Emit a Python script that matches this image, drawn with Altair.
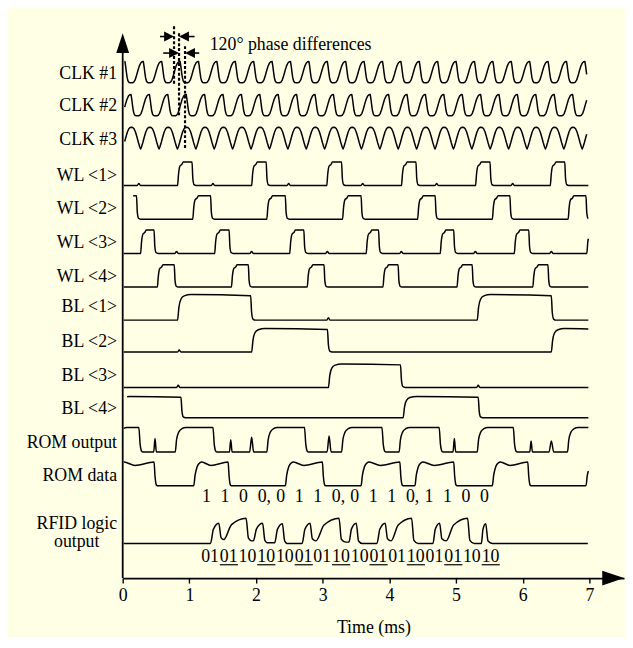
import altair as alt
import numpy as np
import pandas as pd

# ================= values =================
tick_values = [0, 1, 2, 3, 4, 5, 6, 7]
t_domain_end = 7.52          # axis arrow tip (ms)
trace_end = 6.985

# --- clocks (period and phase, one cycle shape each) ---
clk_names = ["CLK #1", "CLK #2", "CLK #3"]
clk_period = 0.276
clk_phase = [0.033, 0.125, 0.131]
clk_u = [(0.00, 1.00), (0.04, 0.78), (0.08, 0.50), (0.12, 0.25), (0.17, 0.08), (0.23, 0.01),
         (0.30, 0.00), (0.40, 0.00), (0.48, 0.03), (0.55, 0.12), (0.62, 0.30), (0.70, 0.55),
         (0.78, 0.78), (0.86, 0.93), (0.93, 0.99)]
clk_arch = [(0.00, 1.00), (0.07, 0.99), (0.14, 0.93), (0.22, 0.78), (0.30, 0.55), (0.38, 0.30),
            (0.45, 0.10), (0.50, 0.00), (0.55, 0.10), (0.62, 0.30), (0.70, 0.55), (0.78, 0.78),
            (0.86, 0.93), (0.93, 0.99)]

# --- word lines: (rise, fall) times in ms ---
wl_names = ["WL <1>", "WL <2>", "WL <3>", "WL <4>"]
wl_high = [
    [(0.823, 1.040), (1.934, 2.152), (3.061, 3.283), (4.182, 4.399), (5.293, 5.510), (6.414, 6.631)],
    [(-0.10, 0.207), (1.051, 1.318), (2.162, 2.439), (3.298, 3.576), (4.424, 4.687), (5.545, 5.808), (6.682, 6.949)],
    [(0.268, 0.470), (1.379, 1.596), (2.505, 2.717), (3.652, 3.838), (4.763, 4.965), (5.874, 6.091), (6.962, 7.30)],
    [(0.520, 0.773), (1.631, 1.884), (2.768, 3.020), (3.904, 4.131), (5.015, 5.242), (6.152, 6.379)],
]
wl_start = [0.015, 0.157, 0.015, 0.015]
wl_blips = [[0.242, 1.354, 2.49, 3.60, 4.71, 5.85], [], [0.808, 1.934, 3.07, 4.18, 5.29, 6.43], []]

# --- bit lines ---
bl_names = ["BL <1>", "BL <2>", "BL <3>", "BL <4>"]
bl_high = [
    [(0.823, 1.919), (5.318, 6.429)],
    [(1.934, 3.071), (6.429, 7.30)],
    [(3.086, 4.167)],
    [(-0.10, 0.874), (4.207, 5.333)],
]
bl_start = [0.015, 0.015, 0.015, 0.066]
bl_blips = [[3.086], [0.848], [0.833, 5.333], []]

# --- ROM output: high intervals and spikes (time, height, half width) ---
rom_out_high = [(-0.10, 0.242), (0.788, 1.354), (2.162, 2.727), (3.283, 3.889),
                (4.146, 4.747), (5.318, 5.859), (6.672, 7.30)]
rom_out_spikes = [(0.485, 0.55, 0.02), (1.621, 0.50, 0.02), (1.934, 0.60, 0.03),
                  (3.096, 0.65, 0.03), (4.975, 0.55, 0.02), (6.126, 0.45, 0.02),
                  (6.430, 0.45, 0.035)]

# --- ROM data ---
rom_data_high = [(-0.10, 0.470), (1.066, 1.581), (2.440, 2.995), (3.576, 4.157),
                 (4.384, 4.965), (5.545, 6.076), (6.950, 7.30)]
rom_bits = ["1", "1", "0", "0,", "0", "1", "1", "0,", "0", "1", "1", "0,", "1", "1", "0", "0"]
rom_bit_t0, rom_bit_step = 1.19, 0.278

# --- RFID logic output bumps: (rise, level0, peak t, peak level, fall end, trough) ---
rfid_bumps = [
    (1.317, 0.00, 1.441, 0.80, 1.515, 0.15),
    (1.515, 0.15, 1.851, 1.00, 1.935, 0.10),
    (1.960, 0.10, 2.098, 0.80, 2.170, 0.03),
    (2.281, 0.03, 2.395, 0.78, 2.470, 0.00),
    (2.692, 0.00, 2.810, 0.80, 2.899, 0.10),
    (2.899, 0.10, 3.245, 1.00, 3.344, 0.05),
    (3.394, 0.05, 3.503, 0.80, 3.590, 0.00),
    (3.814, 0.00, 3.937, 0.80, 4.026, 0.10),
    (4.026, 0.10, 4.333, 1.00, 4.431, 0.00),
    (4.654, 0.00, 4.753, 0.80, 4.852, 0.10),
    (4.852, 0.10, 5.173, 1.00, 5.272, 0.00),
    (5.381, 0.00, 5.445, 0.78, 5.544, 0.00),
]
manchester_pairs = ["01", "01", "10", "10", "10", "01", "01", "10",
                    "10", "01", "01", "10", "01", "01", "10", "10"]
pair_t0, pair_step = 1.177, 0.2805

# phase annotation
phase_lines_t = [0.770, 0.845, 0.935]
phase_text = "120° phase differences"

# ================= layout / style (not data) =================
FONT = "Liberation Serif"
AXIS_PX = 581.0           # page y of the time axis
def up(px):
    return AXIS_PX - px

row_px = {  # (high, low) page y
    "CLK #1": (58.5, 80.0), "CLK #2": (92.0, 113.5), "CLK #3": (125.0, 147.0),
    "WL <1>": (160.2, 184.0), "WL <2>": (194.2, 218.0), "WL <3>": (229.0, 252.7), "WL <4>": (264.0, 286.7),
    "BL <1>": (294.3, 320.1), "BL <2>": (328.6, 352.4), "BL <3>": (364.4, 388.2), "BL <4>": (397.3, 418.8),
    "ROM output": (428.7, 453.5), "ROM data": (463.7, 487.6), "RFID": (520.4, 545.9),
}
label_px = {
    "CLK #1": 71.7, "CLK #2": 103.3, "CLK #3": 138.3,
    "WL <1>": 174.0, "WL <2>": 208.0, "WL <3>": 242.0, "WL <4>": 276.5,
    "BL <1>": 307.2, "BL <2>": 342.2, "BL <3>": 376.3, "BL <4>": 410.3,
    "ROM output": 444.0, "ROM data": 477.3, "RFID logic": 526.5,
}

wl_rise = [(0, 0), (0.015, 0.5), (0.035, 0.82), (0.065, 0.9), (0.085, 1.0)]
wl_fall = [(0, 1.0), (0.012, 0.3), (0.03, 0.04), (0.06, 0)]
bl_rise = [(0, 0), (0.02, 0.5), (0.05, 0.82), (0.1, 0.95), (0.2, 1.0)]
bl_fall = [(0, 0.96), (0.015, 0.3), (0.035, 0.04), (0.07, 0)]
ro_rise = [(0, 0), (0.02, 0.5), (0.05, 0.8), (0.1, 0.95), (0.16, 1.0)]
ro_fall = [(0, 1.0), (0.02, 0.3), (0.045, 0.02), (0.06, 0)]
rd_rise = [(0, 0), (0.02, 0.45), (0.05, 0.8), (0.09, 0.97), (0.12, 1.0)]
rd_fall = [(0, 1.0), (0.015, 0.4), (0.035, 0.03), (0.05, 0)]


def clip(ts, vs, start, end):
    order = np.argsort(ts, kind="stable")
    ts = np.asarray(ts, float)[order]
    vs = np.asarray(vs, float)[order]
    keep = (ts > start) & (ts < end)
    tt = np.concatenate([[start], ts[keep], [end]])
    vv = np.concatenate([[np.interp(start, ts, vs)], vs[keep], [np.interp(end, ts, vs)]])
    return tt, vv


def pulse_trace(intervals, rise, fall, start, end, spikes=(), dip=None):
    ts, vs = [], []
    for r, f in intervals:
        for dt, v in rise:
            ts.append(r + dt); vs.append(v)
        if dip is not None:
            ts.append((r + f) / 2); vs.append(dip)
        for dt, v in fall:
            ts.append(f + dt); vs.append(v)
    for tc, h, w in spikes:
        ts += [tc - w, tc, tc + w]; vs += [0.0, h, 0.0]
    return clip(ts, vs, start, end)


def clock_trace(phase, shape, start, end):
    ts, vs = [], []
    for k in range(-2, 30):
        for ph, v in shape:
            ts.append(phase + (k + ph) * clk_period); vs.append(v)
    return clip(ts, vs, start, end)


def rfid_trace(bumps, start, end):
    ts, vs = [start], [0.0]
    for r, v0, tp, vp, tf, vt in bumps:
        if ts[-1] < r - 1e-9:
            ts.append(r); vs.append(v0)
        ts.append(r + 0.35 * (tp - r)); vs.append(v0 + 0.7 * (vp - v0))
        ts.append(tp); vs.append(vp)
        if tf - tp > 0.05:
            ts.append(tp + 0.035); vs.append(vt + 0.12 * (vp - vt))
        ts.append(tf); vs.append(vt)
    ts.append(end); vs.append(0.0)
    return np.array(ts), np.array(vs)


clk_frames, frames = [], []
def add(name, tt, vv, target):
    hi, lo = row_px[name]
    y = up(lo) + vv * (up(hi) - up(lo))
    target.append(pd.DataFrame({"sig": name, "t": tt, "y": y, "i": np.arange(len(tt))}))

shapes = [clk_u, clk_u, clk_arch]
for n, ph, sh in zip(clk_names, clk_phase, shapes):
    add(n, *clock_trace(ph, sh, 0.03, 6.96), clk_frames)
for n, iv, st, bl in zip(wl_names, wl_high, wl_start, wl_blips):
    add(n, *pulse_trace(iv, wl_rise, wl_fall, st, trace_end, [(b, 0.09, 0.025) for b in bl]), frames)
for n, iv, st, bl in zip(bl_names, bl_high, bl_start, bl_blips):
    add(n, *pulse_trace(iv, bl_rise, bl_fall, st, trace_end, [(b, 0.09, 0.025) for b in bl]), frames)
add("ROM output", *pulse_trace(rom_out_high, ro_rise, ro_fall, 0.015, trace_end, rom_out_spikes), frames)
add("ROM data", *pulse_trace(rom_data_high, rd_rise, rd_fall, 0.015, trace_end, dip=0.86), frames)
add("RFID", *rfid_trace(rfid_bumps, 0.015, 6.977), frames)
wave_df = pd.concat(frames, ignore_index=True)
clk_df = pd.concat(clk_frames, ignore_index=True)

# ================= chart =================
PX_PER_MS = 507 / t_domain_end
xs = alt.Scale(domain=[0, t_domain_end], nice=False, zero=False)
ys = alt.Scale(domain=[0, 558], nice=False, zero=False)
xaxis = alt.Axis(values=tick_values, format="d", title="Time (ms)", grid=False,
                 domainColor="black", domainWidth=1.6, tickColor="black", tickWidth=1.4,
                 tickSize=5, labelFont=FONT, labelFontSize=18, labelColor="black",
                 labelPadding=4, labelFlush=False, titleFont=FONT, titleFontSize=18,
                 titleFontWeight="normal", titleColor="black", titlePadding=14)

def X(f):
    return alt.X(f, type="quantitative", scale=xs, axis=xaxis)

def Y(f):
    return alt.Y(f, type="quantitative", scale=ys, axis=None)

waves = alt.Chart(wave_df).mark_line(interpolate="monotone", color="black", strokeWidth=1.5).encode(
    x=X("t"), y=Y("y"), detail="sig:N", order="i:Q")
clocks = alt.Chart(clk_df).mark_line(interpolate="linear", color="black", strokeWidth=1.5,
                                     strokeJoin="round").encode(
    x=X("t"), y=Y("y"), detail="sig:N", order="i:Q")

# y axis line + arrow heads
yline = alt.Chart(pd.DataFrame({"t": [0.0], "y0": [0.0], "y1": [up(49)]})).mark_rule(
    color="black", strokeWidth=1.8).encode(x=X("t"), y=Y("y0"), y2=alt.Y2("y1"))
yarrow = alt.Chart(pd.DataFrame({"t": [0.0], "y": [up(40)]})).mark_point(
    shape="M0,-1L0.65,1L-0.65,1Z", size=400, filled=True, color="black", opacity=1, strokeWidth=0
).encode(x=X("t"), y=Y("y"))
xarrow = alt.Chart(pd.DataFrame({"t": [t_domain_end - 11 / PX_PER_MS], "y": [0.0]})).mark_point(
    shape="M-1,-0.68L1,0L-1,0.68Z", size=484, filled=True, color="black", opacity=1, strokeWidth=0
).encode(x=X("t"), y=Y("y"))

# phase annotation
dots_df = pd.DataFrame({"t": phase_lines_t, "y0": [up(23), up(30), up(43)], "y1": [up(81), up(115), up(147)]})
dots = alt.Chart(dots_df).mark_rule(color="black", strokeWidth=2.2, strokeDash=[3, 2]).encode(
    x=X("t"), y=Y("y0"), y2=alt.Y2("y1"))
head = 5 / PX_PER_MS
arr_df = pd.DataFrame({
    "tail": [0.559, 1.078, 0.608, 1.148],
    "tip": [phase_lines_t[0], phase_lines_t[1], phase_lines_t[1], phase_lines_t[2]],
    "dir": ["r", "l", "r", "l"],
    "y": [up(33.3), up(33.3), up(50), up(50)],
})
arr_df["hc"] = np.where(arr_df["dir"] == "r", arr_df["tip"] - head, arr_df["tip"] + head)
shafts = alt.Chart(arr_df).mark_rule(color="black", strokeWidth=1.6).encode(
    x=X("tail"), x2=alt.X2("hc"), y=Y("y"))
heads_r = alt.Chart(arr_df[arr_df["dir"] == "r"]).mark_point(
    shape="M-1,-1L1,0L-1,1Z", size=100, filled=True, color="black", opacity=1, strokeWidth=0
).encode(x=X("hc"), y=Y("y"))
heads_l = alt.Chart(arr_df[arr_df["dir"] == "l"]).mark_point(
    shape="M1,-1L-1,0L1,1Z", size=100, filled=True, color="black", opacity=1, strokeWidth=0
).encode(x=X("hc"), y=Y("y"))
ptext = alt.Chart(pd.DataFrame({"t": [(212 - 124) / PX_PER_MS], "y": [up(42.3)], "s": [phase_text]})).mark_text(
    font=FONT, fontSize=18, align="left", baseline="middle", color="black").encode(
    x=X("t"), y=Y("y"), text="s:N")

# row labels
lab_df = pd.DataFrame({"s": list(label_px.keys()), "y": [up(v) for v in label_px.values()]})
lab_df["t"] = (118.3 - 124) / PX_PER_MS
labels = alt.Chart(lab_df).mark_text(font=FONT, fontSize=18, align="right", baseline="middle",
                                     color="black").encode(x=X("t"), y=Y("y"), text="s:N")
out_lab = alt.Chart(pd.DataFrame({"t": [(77.5 - 124) / PX_PER_MS], "y": [up(545)], "s": ["output"]})).mark_text(
    font=FONT, fontSize=18, align="center", baseline="middle", color="black").encode(
    x=X("t"), y=Y("y"), text="s:N")

# bit labels
rb_df = pd.DataFrame({"s": rom_bits, "t": [rom_bit_t0 + k * rom_bit_step for k in range(len(rom_bits))],
                      "y": up(499)})
rbits = alt.Chart(rb_df).mark_text(font=FONT, fontSize=18, align="left", baseline="middle",
                                   color="black").encode(x=X("t"), y=Y("y"), text="s:N")
mp_df = pd.DataFrame({"s": manchester_pairs,
                      "t": [pair_t0 + k * pair_step for k in range(len(manchester_pairs))],
                      "y": up(559.5)})
mbits = alt.Chart(mp_df).mark_text(font=FONT, fontSize=18, align="left", baseline="middle",
                                   color="black").encode(x=X("t"), y=Y("y"), text="s:N")
ul_df = mp_df.iloc[1::2].copy()
ul_df["t2"] = ul_df["t"] + 0.272
ul_df["y"] = up(567.5)
ulines = alt.Chart(ul_df).mark_rule(color="black", strokeWidth=1.2).encode(
    x=X("t"), x2=alt.X2("t2"), y=Y("y"))

chart = alt.layer(
    waves, clocks, yline, yarrow, xarrow, dots, shafts, heads_r, heads_l, ptext,
    labels, out_lab, rbits, mbits, ulines
).properties(
    width=507, height=558,
    autosize=alt.AutoSizeParams(type="none"),
    padding={"left": 116, "top": 15, "right": 1, "bottom": 56},
    background="#FFFFE5",
).configure_view(stroke=None)

chart.save("out.html", embed_options={"renderer": "svg", "actions": False})
